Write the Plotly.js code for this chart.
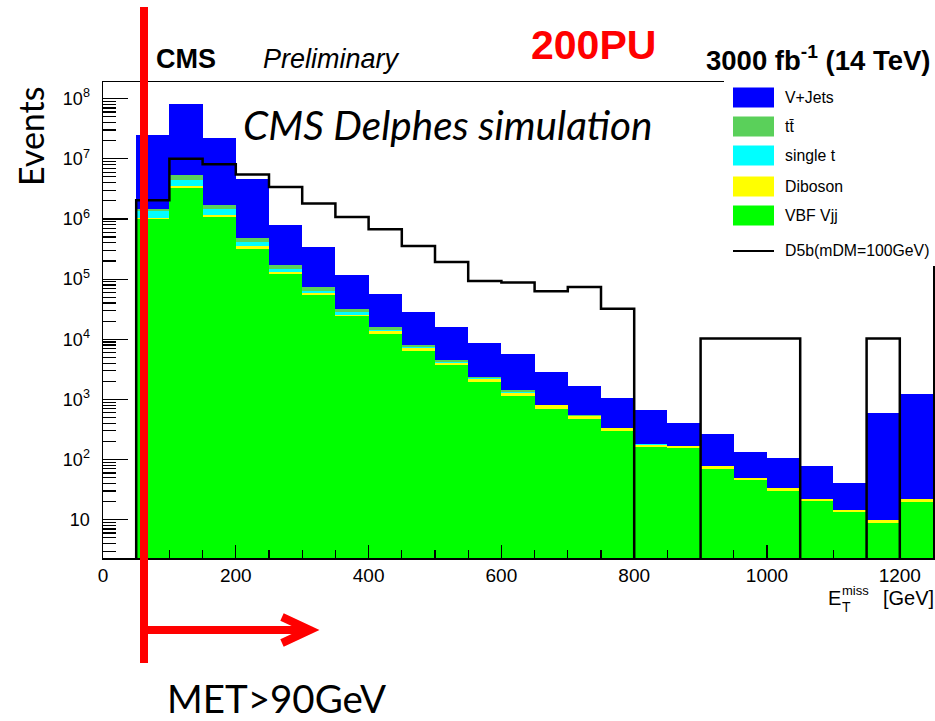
<!DOCTYPE html>
<html>
<head>
<meta charset="utf-8">
<script src="https://cdn.plot.ly/plotly-3.0.1.min.js"></script>
<style>
  html, body { margin: 0; padding: 0; background: #ffffff; }
  #chart { width: 935px; height: 721px; }
</style>
</head>
<body>
<div id="chart"></div>
<script>
// Missing transverse energy bins (GeV), 50 GeV wide
const binEdges = [50, 100, 150, 200, 250, 300, 350, 400, 450, 500, 550, 600, 650,
                  700, 750, 800, 850, 900, 950, 1000, 1050, 1100, 1150, 1200, 1250];

// Background processes, events per bin (stacked bottom to top)
const vbfVjj    = [1.0e6, 3.27e6, 1.07e6, 3.22e5, 1.205e5, 5.41e4, 2.45e4, 1.20e4, 6410, 3715, 1970, 1150,
                   692, 465, 295, 162, 155, 69, 45.7, 30.2, 20.4, 13.6, 8.9, 20.0];
const diboson   = [5.4e4, 2.6e5, 8.4e4, 3.0e4, 1.13e4, 4.8e3, 1.2e3, 1.6e3, 620, 340, 240, 126,
                   102, 60, 38, 16, 15, 8.4, 4.4, 2.9, 2.0, 0.9, 0.9, 2.4];
const singleTop = [3.0e5, 9.9e5, 3.18e5, 5.8e4, 1.61e4, 4.2e3, 2.2e3, 480, 380, 160, 26, 29,
                   10, 6, 2, 1, 0, 0, 0, 0, 0, 0, 0, 0];
const ttbar     = [9.4e4, 8.0e5, 2.65e5, 7.4e4, 2.67e4, 1.12e4, 3.8e3, 1.9e3, 480, 280, 105, 126,
                   9, 19, 4, 1, 0, 0, 0, 0, 0, 0, 0, 0];
const vJets     = [2.37e7, 7.73e7, 2.04e7, 4.20e6, 6.32e5, 2.61e5, 8.75e4, 4.16e4, 2.0e4, 1.16e4, 6170, 4220,
                   1990, 1094, 701, 484, 228, 185, 83, 72, 54.7, 26.2, 579, 1217];

// Signal hypothesis (unstacked outline)
const d5bSignal = [2.05e6, 1.0e7, 8.1e6, 5.46e6, 3.4e6, 1.80e6, 1.08e6, 6.75e5, 3.56e5, 1.93e5, 9.3e4, 8.8e4,
                   6.3e4, 7.4e4, 3.2e4, 0, 0, 1.03e4, 1.03e4, 1.03e4, 0, 0, 1.03e4, 0];

// Legend names, top to bottom
const legendNames = ['V+Jets', 'tt\u0304', 'single t', 'Diboson', 'VBF Vjj', 'D5b(mDM=100GeV)'];

// Axis tick labels
const yTickVals = [10, 1e2, 1e3, 1e4, 1e5, 1e6, 1e7, 1e8];
const yTickText = ['10', '10<sup>2</sup>', '10<sup>3</sup>', '10<sup>4</sup>',
                   '10<sup>5</sup>', '10<sup>6</sup>', '10<sup>7</sup>', '10<sup>8</sup>'];

// ---- styling ----
const COLORS = {
  vJets: '#0000ff', ttbar: '#5ad05a', singleTop: '#00ffff',
  diboson: '#ffff00', vbf: '#00ff00', signal: '#000000', red: '#ff0000'
};
const HELV = 'Liberation Sans, Arial, sans-serif';
const CALI = 'Lato, Open Sans, sans-serif';

const W = 935, H = 721;
const M = { l: 103, r: 2, t: 82, b: 163 };
const pw = W - M.l - M.r, ph = H - M.t - M.b;
const fx = px => (px - M.l) / pw;          // pixel -> paper x
const fy = py => (H - M.b - py) / ph;      // pixel -> paper y

const centers = binEdges.slice(0, -1).map((e, i) => (e + binEdges[i + 1]) / 2);
const widths  = binEdges.slice(0, -1).map((e, i) => binEdges[i + 1] - e);

function stackBar(name, vals, color) {
  return {
    type: 'bar', name: name, x: centers, y: vals, width: widths,
    marker: { color: color, line: { width: 0 } },
    hoverinfo: 'skip', showlegend: false
  };
}

// Step outline for the signal; empty bins sit below the visible range
const yRange = [Math.log10(2.31), Math.log10(1.89e8)];
const floorVal = Math.pow(10, yRange[0] - 1);
const sigX = [binEdges[0]], sigY = [floorVal];
d5bSignal.forEach((v, i) => { sigX.push(binEdges[i]); sigY.push(v > 0 ? v : floorVal); });
const lastSig = d5bSignal[d5bSignal.length - 1];
sigX.push(binEdges[binEdges.length - 1]); sigY.push(lastSig > 0 ? lastSig : floorVal);

const traces = [
  stackBar('VBF Vjj', vbfVjj, COLORS.vbf),
  stackBar('Diboson', diboson, COLORS.diboson),
  stackBar('single t', singleTop, COLORS.singleTop),
  stackBar('ttbar', ttbar, COLORS.ttbar),
  stackBar('V+Jets', vJets, COLORS.vJets),
  {
    type: 'scatter', mode: 'lines', name: 'D5b', x: sigX, y: sigY,
    line: { shape: 'hv', color: COLORS.signal, width: 2.5 },
    hoverinfo: 'skip', showlegend: false
  }
];

// ---- decorations: header, legend, overlay ----
const shapes = [];
const annotations = [];
function txt(text, x, y, size, opts) {
  annotations.push(Object.assign({
    text: text, xref: 'paper', yref: 'paper', x: fx(x), y: fy(y),
    showarrow: false, xanchor: 'left', yanchor: 'middle',
    font: { family: HELV, size: size, color: '#000000' }
  }, opts || {}));
}

// header
txt('<b>CMS</b>', 154, 59, 27);
txt('<i>Preliminary</i>', 261, 59, 27);
txt('<b>200PU</b>', 529, 45, 41, { font: { family: HELV, size: 41, color: COLORS.red } });
txt('<b>3000 fb<sup>-1</sup> (14 TeV)</b>', 932, 59, 27.5, { xanchor: 'right' });
txt('<i>CMS Delphes simulation</i>', 241, 124, 40.5, { font: { family: CALI, size: 40.5, color: '#000000' } });

// y-axis title, top aligned
txt('Events', 30, 84, 34, { textangle: -90, xanchor: 'center', yanchor: 'top',
  font: { family: CALI, size: 34, color: '#000000' } });

// x-axis title  E_T^miss [GeV]
txt('E', 826, 598, 20);
txt('miss', 840, 590, 13);
txt('T', 840, 607, 14);
txt('[GeV]', 881, 598, 20);

// legend panel
shapes.push({ type: 'rect', xref: 'paper', yref: 'paper', layer: 'above',
  x0: fx(724), x1: fx(936), y0: fy(79), y1: fy(266),
  fillcolor: '#ffffff', line: { width: 0 } });
const legendFill = [COLORS.vJets, COLORS.ttbar, COLORS.singleTop, COLORS.diboson, COLORS.vbf];
const legendRowY = [97.5, 126.5, 155.5, 186.5, 215.5, 251];
legendFill.forEach((c, i) => {
  shapes.push({ type: 'rect', xref: 'paper', yref: 'paper', layer: 'above',
    x0: fx(733), x1: fx(774), y0: fy(legendRowY[i] - 10), y1: fy(legendRowY[i] + 10),
    fillcolor: c, line: { width: 0 } });
});
shapes.push({ type: 'line', xref: 'paper', yref: 'paper', layer: 'above',
  x0: fx(733), x1: fx(774), y0: fy(legendRowY[5]), y1: fy(legendRowY[5]),
  line: { color: '#000000', width: 2 } });
legendNames.forEach((n, i) => {
  txt(n, 783, legendRowY[i], 15.8, { });
});

// MET cut marker
shapes.push({ type: 'line', xref: 'paper', yref: 'paper', layer: 'above',
  x0: fx(144), x1: fx(144), y0: fy(7), y1: fy(663), line: { color: COLORS.red, width: 8 } });
shapes.push({ type: 'line', xref: 'paper', yref: 'paper', layer: 'above',
  x0: fx(144), x1: fx(308), y0: fy(630), y1: fy(630), line: { color: COLORS.red, width: 8 } });
shapes.push({ type: 'path', xref: 'paper', yref: 'paper', layer: 'above',
  path: 'M' + fx(282) + ',' + fy(617) + ' L' + fx(310) + ',' + fy(630) + ' L' + fx(282) + ',' + fy(643),
  line: { color: COLORS.red, width: 8 } });
txt('MET&gt;90GeV', 165, 698, 38.5, { font: { family: CALI, size: 38.5, color: '#000000' } });

const axisCommon = {
  showgrid: false, zeroline: false, showline: true, mirror: true,
  linecolor: '#000000', linewidth: 1.5, ticks: 'inside', tickcolor: '#000000',
  tickwidth: 1.2, layer: 'above traces'
};

const layout = {
  width: W, height: H, margin: M,
  paper_bgcolor: '#ffffff', plot_bgcolor: '#ffffff',
  barmode: 'stack', bargap: 0, showlegend: false,
  xaxis: Object.assign({}, axisCommon, {
    range: [0, 1250], tick0: 0, dtick: 200, ticklen: 13,
    minor: { ticks: 'inside', dtick: 50, ticklen: 8, tickcolor: '#000000', tickwidth: 1.2, showgrid: false },
    tickfont: { family: HELV, size: 19, color: '#000000' }
  }),
  yaxis: Object.assign({}, axisCommon, {
    type: 'log', range: yRange, tickmode: 'array', tickvals: yTickVals, ticktext: yTickText,
    ticklen: 25, ticklabelstandoff: 8,
    minor: { ticks: 'inside', dtick: 'D1', ticklen: 13, tickcolor: '#000000', tickwidth: 1.2, showgrid: false },
    tickfont: { family: HELV, size: 18, color: '#000000' }
  }),
  shapes: shapes,
  annotations: annotations
};

Plotly.newPlot('chart', traces, layout, { staticPlot: true, displayModeBar: false });
</script>
</body>
</html>
